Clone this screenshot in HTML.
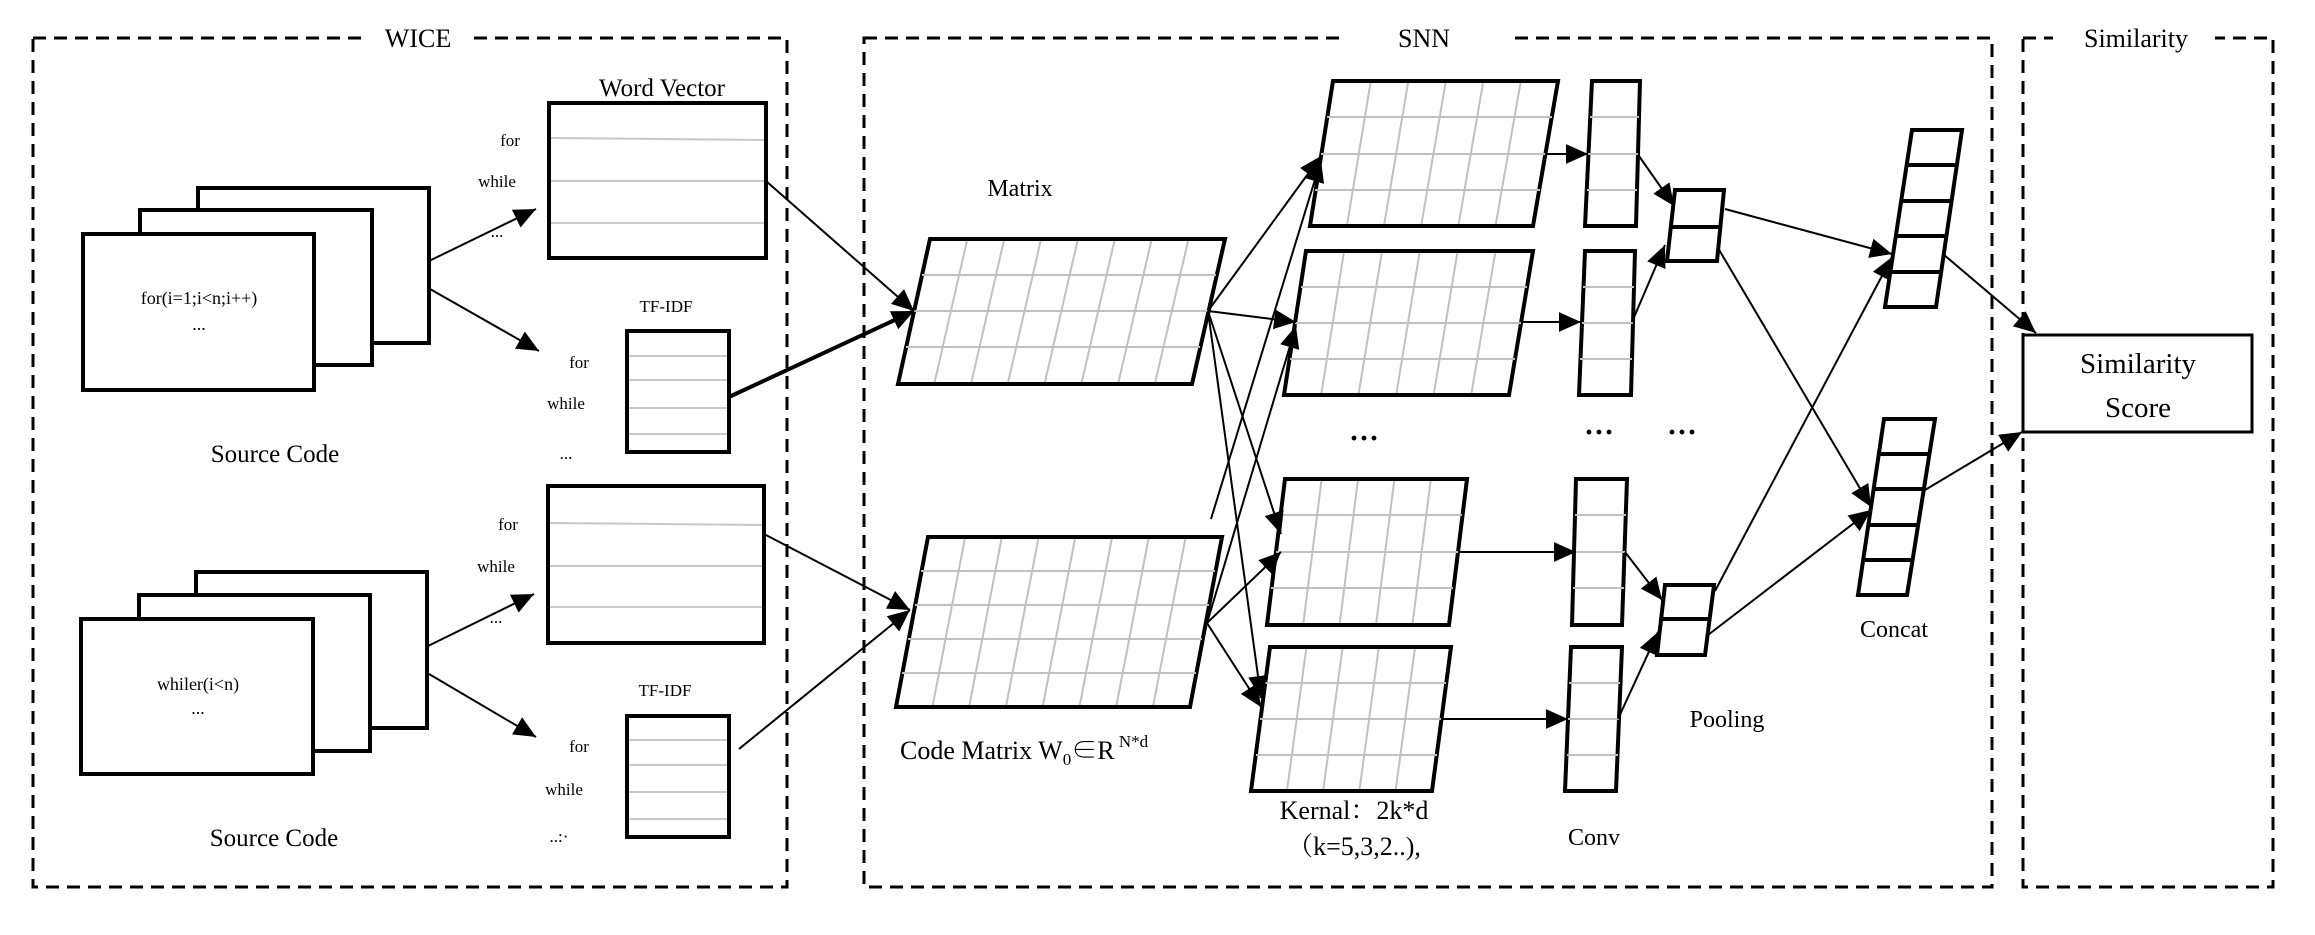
<!DOCTYPE html>
<html><head><meta charset="utf-8"><style>
html,body{margin:0;padding:0;background:#fff;}
svg{display:block;font-family:"Liberation Serif","Noto Serif CJK SC",serif;}
</style></head><body>
<svg width="2315" height="935" viewBox="0 0 2315 935" xmlns="http://www.w3.org/2000/svg">
<defs>
<marker id="a" viewBox="0 0 10 10" refX="10" refY="5" markerWidth="22" markerHeight="22" markerUnits="userSpaceOnUse" orient="auto"><path d="M0,0.5 L10,5 L0,9.5 z" fill="#000"/></marker>
</defs>
<rect width="2315" height="935" fill="#fff"/>
<!-- dashed group boxes -->
<g fill="none" stroke="#000" stroke-width="3" stroke-dasharray="13,8">
<rect x="33" y="38" width="754" height="849"/>
<rect x="864" y="38" width="1128" height="849"/>
<rect x="2023" y="38" width="250" height="849"/>
</g>
<rect x="362" y="25" width="112" height="26" fill="#fff"/>
<rect x="1344" y="25" width="164" height="26" fill="#fff"/>
<rect x="2053" y="25" width="162" height="26" fill="#fff"/>
<g font-size="26" text-anchor="middle">
<text x="418" y="47">WICE</text>
<text x="1424" y="47">SNN</text>
<text x="2136" y="47">Similarity</text>
</g>

<!-- source code stacks -->
<g fill="#fff" stroke="#000" stroke-width="4">
<rect x="198" y="188" width="231" height="155"/>
<rect x="140" y="210" width="232" height="155"/>
<rect x="83" y="234" width="231" height="156"/>
<rect x="196" y="572" width="231" height="156"/>
<rect x="139" y="595" width="231" height="156"/>
<rect x="81" y="619" width="232" height="155"/>
</g>
<g font-size="18" text-anchor="middle">
<text x="199" y="304">for(i=1;i&lt;n;i++)</text>
<text x="199" y="330">...</text>
<text x="198" y="690">whiler(i&lt;n)</text>
<text x="198" y="714">...</text>
</g>
<g font-size="25" text-anchor="middle">
<text x="275" y="462">Source Code</text>
<text x="274" y="846">Source Code</text>
<text x="662" y="96">Word Vector</text>
</g>

<!-- word vectors -->
<g fill="#fff" stroke="#000" stroke-width="4">
<rect x="549" y="103" width="217" height="155"/>
<rect x="548" y="486" width="216" height="157"/>
<rect x="627" y="331" width="102" height="121"/>
<rect x="627" y="716" width="102" height="121"/>
</g>
<g stroke="#c8c8c8" stroke-width="2">
<line x1="551" y1="138" x2="764" y2="140"/><line x1="551" y1="181" x2="764" y2="181"/><line x1="551" y1="223" x2="764" y2="223"/>
<line x1="550" y1="523" x2="762" y2="525"/><line x1="550" y1="566" x2="762" y2="566"/><line x1="550" y1="607" x2="762" y2="607"/>
<line x1="629" y1="356" x2="727" y2="356"/><line x1="629" y1="380" x2="727" y2="380"/><line x1="629" y1="408" x2="727" y2="408"/><line x1="629" y1="434" x2="727" y2="434"/>
<line x1="629" y1="740" x2="727" y2="740"/><line x1="629" y1="765" x2="727" y2="765"/><line x1="629" y1="792" x2="727" y2="792"/><line x1="629" y1="819" x2="727" y2="819"/>
</g>
<g font-size="17" text-anchor="middle">
<text x="510" y="146">for</text><text x="497" y="187">while</text><text x="497" y="237">...</text>
<text x="666" y="312">TF-IDF</text>
<text x="579" y="368">for</text><text x="566" y="409">while</text><text x="566" y="459">...</text>
<text x="508" y="530">for</text><text x="496" y="572">while</text><text x="496" y="623">...</text>
<text x="665" y="696">TF-IDF</text>
<text x="579" y="752">for</text><text x="564" y="795">while</text><text x="559" y="842">..:·</text>
</g>

<!-- code matrices -->
<g stroke="#c0c0c0" stroke-width="2">
<!-- M1 verticals -->
<g id="m1v"></g>
</g>
<g fill="#fff" stroke="#000" stroke-width="4">
<polygon points="930,239 1225,239 1192,384 898,384"/>
<polygon points="928,537 1222,537 1190,707 896,707"/>
<polygon points="1333,81 1558,81 1533,226 1310,226"/>
<polygon points="1306,251 1533,251 1509,395 1284,395"/>
<polygon points="1285,479 1467,479 1449,625 1267,625"/>
<polygon points="1270,647 1451,647 1432,791 1251,791"/>
<polygon points="1592,81 1640,81 1636,226 1585,226"/>
<polygon points="1585,251 1635,251 1631,395 1579,395"/>
<polygon points="1576,479 1627,479 1622,625 1572,625"/>
<polygon points="1571,647 1622,647 1616,791 1565,791"/>
</g>
<g stroke="#c0c0c0" stroke-width="2">
<!-- M1: 8 cols, 4 rows -->
<line x1="966.9" y1="241" x2="934.7" y2="382"/><line x1="1003.8" y1="241" x2="971.5" y2="382"/><line x1="1040.6" y1="241" x2="1008.2" y2="382"/><line x1="1077.5" y1="241" x2="1045" y2="382"/><line x1="1114.4" y1="241" x2="1081.8" y2="382"/><line x1="1151.3" y1="241" x2="1118.5" y2="382"/><line x1="1188.1" y1="241" x2="1155.3" y2="382"/>
<line x1="922" y1="275" x2="1216" y2="275"/><line x1="914" y1="311" x2="1208" y2="311"/><line x1="906" y1="347" x2="1200" y2="347"/>
<!-- M2: 8 cols, 5 rows -->
<line x1="964.8" y1="539" x2="932.8" y2="705"/><line x1="1001.5" y1="539" x2="969.5" y2="705"/><line x1="1038.3" y1="539" x2="1006.3" y2="705"/><line x1="1075" y1="539" x2="1043" y2="705"/><line x1="1111.8" y1="539" x2="1079.8" y2="705"/><line x1="1148.5" y1="539" x2="1116.5" y2="705"/><line x1="1185.3" y1="539" x2="1153.3" y2="705"/>
<line x1="921" y1="571" x2="1215" y2="571"/><line x1="915" y1="605" x2="1209" y2="605"/><line x1="908" y1="639" x2="1202" y2="639"/><line x1="902" y1="673" x2="1196" y2="673"/>
<!-- K1: 6 cols 4 rows -->
<line x1="1370.5" y1="83" x2="1347.2" y2="224"/><line x1="1408" y1="83" x2="1384.3" y2="224"/><line x1="1445.5" y1="83" x2="1421.5" y2="224"/><line x1="1483" y1="83" x2="1458.7" y2="224"/><line x1="1520.5" y1="83" x2="1495.8" y2="224"/>
<line x1="1327" y1="117" x2="1552" y2="117"/><line x1="1321" y1="154" x2="1546" y2="154"/><line x1="1315" y1="190" x2="1540" y2="190"/>
<!-- K2 -->
<line x1="1343.8" y1="253" x2="1321.5" y2="393"/><line x1="1381.7" y1="253" x2="1358.8" y2="393"/><line x1="1419.5" y1="253" x2="1396.5" y2="393"/><line x1="1457.3" y1="253" x2="1434" y2="393"/><line x1="1495.2" y1="253" x2="1471.5" y2="393"/>
<line x1="1301" y1="287" x2="1527" y2="287"/><line x1="1295" y1="323" x2="1521" y2="323"/><line x1="1290" y1="359" x2="1515" y2="359"/>
<!-- K3: 5 cols -->
<line x1="1321.4" y1="481" x2="1303.4" y2="623"/><line x1="1357.8" y1="481" x2="1339.8" y2="623"/><line x1="1394.2" y1="481" x2="1376.2" y2="623"/><line x1="1430.6" y1="481" x2="1412.6" y2="623"/>
<line x1="1280" y1="515" x2="1462" y2="515"/><line x1="1276" y1="552" x2="1458" y2="552"/><line x1="1271" y1="588" x2="1453" y2="588"/>
<!-- K4 -->
<line x1="1306.2" y1="649" x2="1287.2" y2="789"/><line x1="1342.4" y1="649" x2="1323.4" y2="789"/><line x1="1378.6" y1="649" x2="1359.6" y2="789"/><line x1="1414.8" y1="649" x2="1395.8" y2="789"/>
<line x1="1265" y1="683" x2="1446" y2="683"/><line x1="1260" y1="719" x2="1441" y2="719"/><line x1="1256" y1="755" x2="1437" y2="755"/>
<!-- conv cells -->
<line x1="1590" y1="117" x2="1639" y2="117"/><line x1="1588" y1="154" x2="1638" y2="154"/><line x1="1587" y1="190" x2="1637" y2="190"/>
<line x1="1583" y1="287" x2="1634" y2="287"/><line x1="1582" y1="323" x2="1633" y2="323"/><line x1="1580" y1="359" x2="1632" y2="359"/>
<line x1="1575" y1="515" x2="1626" y2="515"/><line x1="1574" y1="552" x2="1625" y2="552"/><line x1="1573" y1="588" x2="1624" y2="588"/>
<line x1="1569" y1="683" x2="1620" y2="683"/><line x1="1568" y1="719" x2="1619" y2="719"/><line x1="1567" y1="755" x2="1618" y2="755"/>
</g>
<!-- pooling & concat -->
<g fill="#fff" stroke="#000" stroke-width="4">
<polygon points="1675,190 1724,190 1717,261 1667,261"/>
<polygon points="1665,585 1714,585 1705,655 1657,655"/>
<polygon points="1912,130 1962,130 1936,307 1885,307"/>
<polygon points="1884,419 1935,419 1907,595 1858,595"/>
</g>
<g stroke="#000" stroke-width="4">
<line x1="1671" y1="227" x2="1720" y2="227"/>
<line x1="1661" y1="619" x2="1710" y2="619"/>
<line x1="1907" y1="165" x2="1957" y2="165"/><line x1="1902" y1="201" x2="1952" y2="201"/><line x1="1896" y1="236" x2="1946" y2="236"/><line x1="1891" y1="272" x2="1941" y2="272"/>
<line x1="1879" y1="454" x2="1930" y2="454"/><line x1="1873" y1="489" x2="1924" y2="489"/><line x1="1868" y1="525" x2="1918" y2="525"/><line x1="1863" y1="560" x2="1913" y2="560"/>
</g>
<rect x="2023" y="335" width="229" height="97" fill="#fff" stroke="#000" stroke-width="3"/>
<g font-size="29" text-anchor="middle">
<text x="2138" y="373">Similarity</text>
<text x="2138" y="417">Score</text>
</g>

<!-- arrows -->
<g stroke="#000" stroke-width="2" fill="none" marker-end="url(#a)">
<line x1="429" y1="261" x2="536" y2="209"/>
<line x1="430" y1="289" x2="539" y2="351"/>
<line x1="428" y1="646" x2="534" y2="594"/>
<line x1="429" y1="674" x2="536" y2="737"/>
<line x1="766" y1="181" x2="914" y2="311"/>
<line x1="729" y1="397" x2="914" y2="311" stroke-width="4"/>
<line x1="764" y1="534" x2="910" y2="610"/>
<line x1="739" y1="749" x2="910" y2="610"/>
<line x1="1208" y1="311" x2="1321" y2="156"/>
<line x1="1208" y1="311" x2="1296" y2="322"/>
<line x1="1208" y1="311" x2="1281" y2="534"/>
<line x1="1208" y1="311" x2="1261" y2="698"/>
<line x1="1211" y1="519" x2="1321" y2="160"/>
<line x1="1207" y1="623" x2="1296" y2="326"/>
<line x1="1207" y1="623" x2="1281" y2="552"/>
<line x1="1207" y1="623" x2="1261" y2="707"/>
<line x1="1545" y1="154" x2="1588" y2="154"/>
<line x1="1522" y1="322" x2="1581" y2="322"/>
<line x1="1459" y1="552" x2="1576" y2="552"/>
<line x1="1442" y1="719" x2="1568" y2="719"/>
<line x1="1639" y1="156" x2="1674" y2="206"/>
<line x1="1632" y1="322" x2="1665" y2="245"/>
<line x1="1625" y1="552" x2="1662" y2="600"/>
<line x1="1618" y1="719" x2="1658" y2="632"/>
<line x1="1725" y1="209" x2="1892" y2="254"/>
<line x1="1718" y1="248" x2="1871" y2="507"/>
<line x1="1715" y1="591" x2="1892" y2="257"/>
<line x1="1708" y1="635" x2="1871" y2="510"/>
<line x1="1943" y1="254" x2="2036" y2="333"/>
<line x1="1925" y1="490" x2="2022" y2="432"/>
</g>

<!-- SNN labels -->
<g font-size="24" text-anchor="middle">
<text x="1020" y="196">Matrix</text>
<text x="1594" y="845">Conv</text>
<text x="1727" y="727">Pooling</text>
<text x="1894" y="637">Concat</text>
</g>
<text x="900" y="759" font-size="26">Code Matrix  W<tspan font-size="17" dy="6">0</tspan><tspan dy="-6">∈R</tspan><tspan font-size="17" dy="-12"> N*d</tspan></text>
<text x="1354" y="819" font-size="26" text-anchor="middle">Kernal：2k*d</text>
<text x="1354" y="855" font-size="26" text-anchor="middle">（k=5,3,2..),</text>
<g font-size="30" font-weight="bold" text-anchor="middle">
<text x="1364" y="448">···</text>
<text x="1599" y="442">···</text>
<text x="1682" y="442">···</text>
</g>
</svg>
</body></html>
